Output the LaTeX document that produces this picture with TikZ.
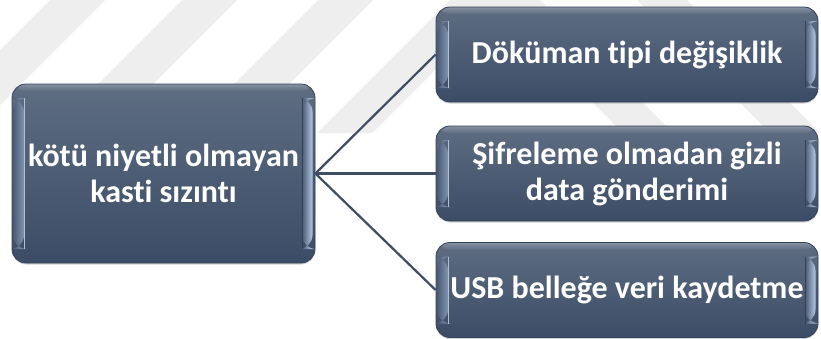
\documentclass[tikz,border=0pt]{standalone}
\usepackage{fontspec}
\setmainfont{Carlito}[Ligatures=NoCommon]
\usetikzlibrary{calc,shadows}

\definecolor{faceTop}{HTML}{5E6D82}
\definecolor{faceBot}{HTML}{3B4C66}
\definecolor{faceMid}{HTML}{4A5A73}
\definecolor{rimCol}{HTML}{34425A}
\definecolor{bevelHi}{HTML}{B5C9E4}
\definecolor{bevelLo}{HTML}{8195B0}
\definecolor{linkCol}{HTML}{3E4D63}
\definecolor{stripeCol}{HTML}{EEEEEE}

\tikzset{
  slab/.style={
    rounded corners=14pt, top color=faceTop, bottom color=faceBot,
    draw=rimCol, line width=0.8pt, text=white, align=center, inner sep=0pt,
    font=\bfseries\fontsize{32}{36}\selectfont,
    drop shadow={shadow xshift=0pt, shadow yshift=-1.5pt, opacity=0.35},
    path picture={
      \coordinate (ppnw) at (path picture bounding box.north west);
      \coordinate (ppse) at (path picture bounding box.south east);
      % soft top highlight
      \shade[top color=faceTop!75!white, bottom color=faceTop]
        (ppnw) rectangle ($(ppse |- ppnw)+(0,-7pt)$);
      % left bevel
      \shade[left color=faceMid, right color=bevelLo]
        ($(ppnw)+(1pt,-14pt)$) rectangle ($(ppnw |- ppse)+(12pt,14pt)$);
      \draw[bevelLo!60!white, line width=0.6pt]
        ($(ppnw)+(12pt,-14pt)$) -- ($(ppnw |- ppse)+(12pt,14pt)$);
      % right bevel
      \shade[left color=faceMid, right color=bevelHi]
        ($(ppse |- ppnw)+(-13pt,-14pt)$) rectangle ($(ppse)+(-2.5pt,14pt)$);
      \draw[faceMid!70!black, line width=0.5pt]
        ($(ppse |- ppnw)+(-13pt,-14pt)$) -- ($(ppse)+(-13pt,14pt)$);
    }},
  leftslab/.style={slab, minimum width=303pt, minimum height=179pt},
  rightslab/.style={slab, minimum width=382pt, minimum height=95pt},
  link/.style={draw=linkCol, line width=2.2pt},
  stripe/.style={fill=stripeCol, draw=none},
}

\begin{document}
\begin{tikzpicture}[x=1pt, y=-1pt]
  \useasboundingbox (0,0) rectangle (821,338);
  \fill[white] (0,0) rectangle (821,338);

  % faint diagonal background bands
  \begin{scope}
    \clip (0,0) rectangle (821,338);
    \foreach \a in {50,182,318,450}
      \fill[stripe] (\a,0) -- (\a+55,0) -- (\a+55-133,133) -- (\a-133,133) -- cycle;
    \foreach \a in {490,637}
      \fill[stripe] (\a,0) -- (\a+50,0) -- (\a+50+133,133) -- (\a+133,133) -- cycle;
  \end{scope}

  % boxes
  \node[leftslab]  (src) at (163.5,173.5) {kötü niyetli olmayan\\kasti sızıntı};
  \node[rightslab] (b1)  at (627,54.5)    {Döküman tipi değişiklik};
  \node[rightslab] (b2)  at (627,173.5)   {Şifreleme olmadan gizli\\data gönderimi};
  \node[rightslab] (b3)  at (627,290)     {USB belleğe veri kaydetme};

  % connectors
  \draw[link] (src.east) -- (b1.west);
  \draw[link] (src.east) -- (b2.west);
  \draw[link] (src.east) -- (b3.west);
\end{tikzpicture}
\end{document}
